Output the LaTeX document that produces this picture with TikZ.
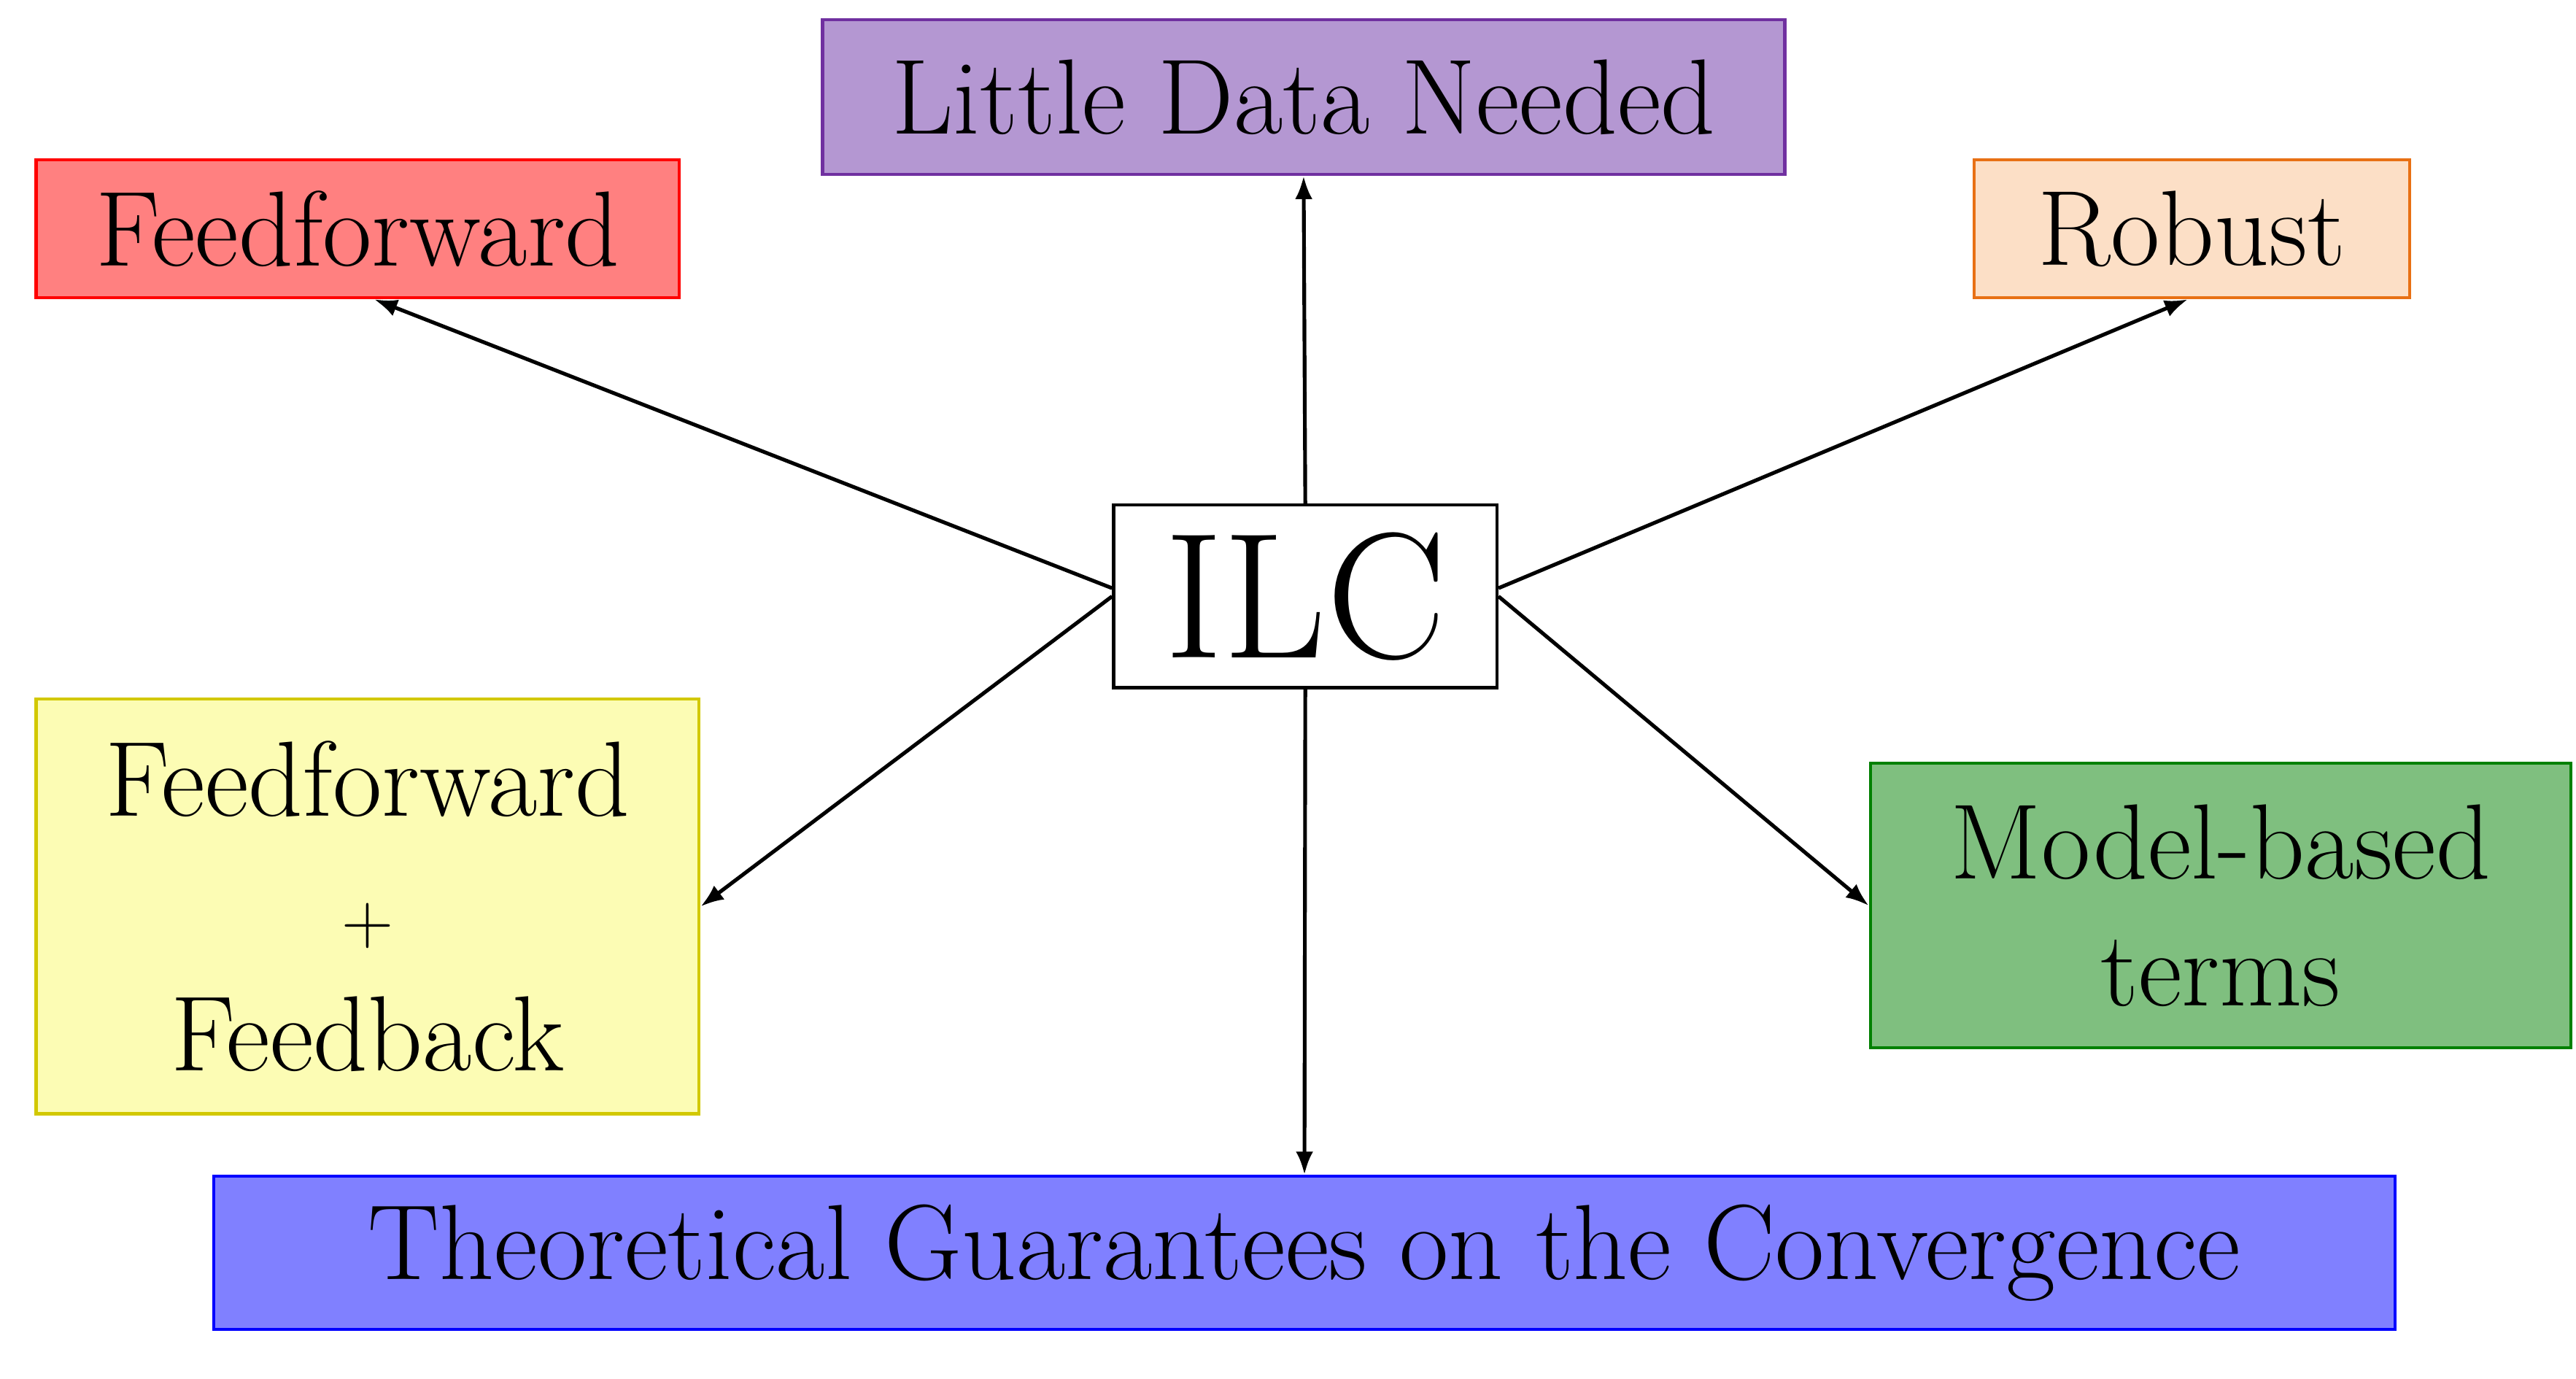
\documentclass[tikz,border=0pt]{standalone}
\usetikzlibrary{arrows.meta}
\definecolor{fpurple}{RGB}{180,151,210}\definecolor{dpurple}{RGB}{112,48,160}
\definecolor{fred}{RGB}{255,128,128}
\definecolor{forange}{RGB}{252,223,198}\definecolor{dorange}{RGB}{232,112,20}
\definecolor{fyellow}{RGB}{252,252,180}\definecolor{dyellow}{RGB}{210,200,0}
\definecolor{fgreen}{RGB}{127,191,127}\definecolor{dgreen}{RGB}{0,128,0}
\definecolor{fblue}{RGB}{128,128,255}
\begin{document}
\begin{tikzpicture}[x=0.02cm,y=-0.02cm,
  box/.style={draw,line width=1.1pt,inner sep=0pt,align=center,font=\fontsize{37}{44}\selectfont},
  arr/.style={-{Latex[length=8pt,width=6pt]},line width=1.3pt}]
\useasboundingbox (0,0) rectangle (1566,838);
\node[box,fill=fpurple,draw=dpurple,minimum width=585*0.02cm,minimum height=94*0.02cm] (ld) at (792.5,59) {Little Data Needed};
\node[box,fill=fred,draw=red,minimum width=391*0.02cm,minimum height=84*0.02cm] (ff) at (217.5,139) {Feedforward};
\node[box,fill=forange,draw=dorange,minimum width=265*0.02cm,minimum height=84*0.02cm] (rb) at (1332.5,139) {Robust};
\node[box,fill=white,draw=black,minimum width=233*0.02cm,minimum height=111*0.02cm,font=\fontsize{62}{70}\selectfont] (ilc) at (793.5,362.5) {ILC};
\node[box,fill=fyellow,draw=dyellow,minimum width=403*0.02cm,minimum height=252*0.02cm] (fb) at (223.5,551) {Feedforward\\$+$\\Feedback};
\node[box,fill=fgreen,draw=dgreen,minimum width=426*0.02cm,minimum height=173*0.02cm] (mb) at (1350,550.5) {Model-based\\terms};
\node[box,fill=fblue,draw=blue,minimum width=1326*0.02cm,minimum height=93*0.02cm] (tg) at (793,761.5) {Theoretical Guarantees on the Convergence};
\draw[arr] (ilc.north) -- (ld.south);
\draw[arr] ([yshift=0.1cm]ilc.west) -- ([xshift=0.2cm]ff.south);
\draw[arr] ([yshift=0.1cm]ilc.east) -- ([xshift=-0.05cm]rb.south);
\draw[arr] ([yshift=0cm]ilc.west) -- (fb.east);
\draw[arr] (ilc.east) -- (mb.west);
\draw[arr] (ilc.south) -- (tg.north);
\end{tikzpicture}
\end{document}
